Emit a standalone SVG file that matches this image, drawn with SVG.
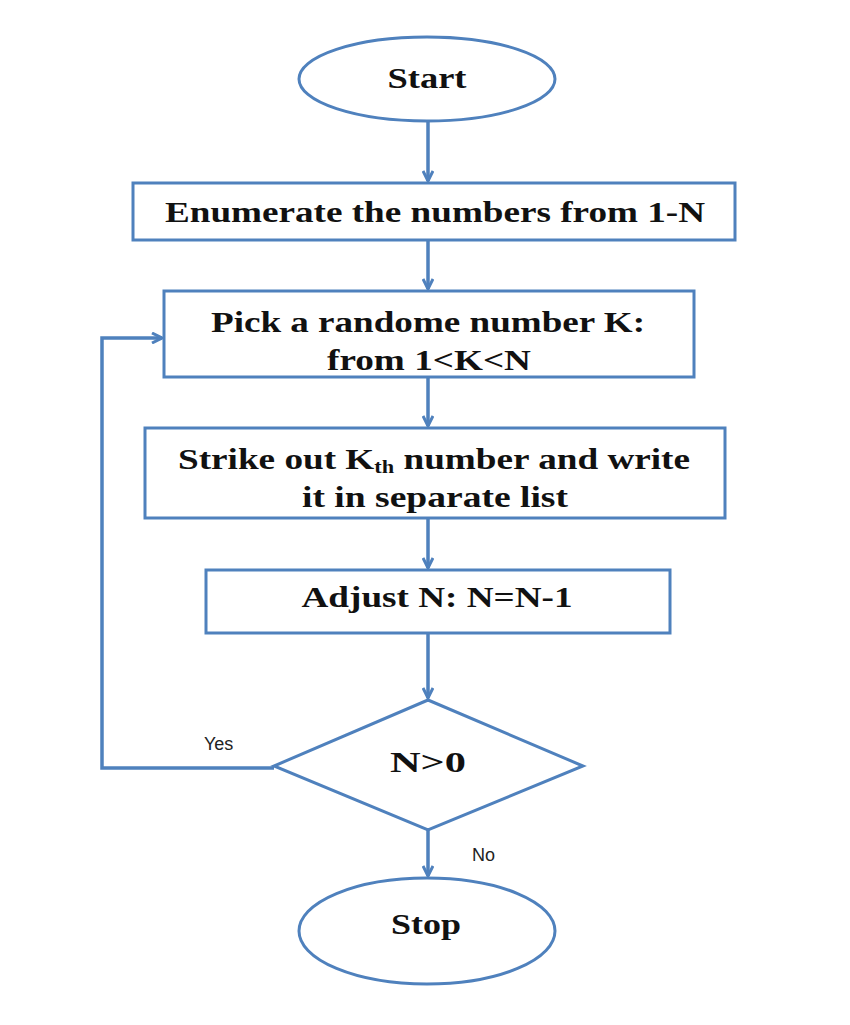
<svg xmlns="http://www.w3.org/2000/svg" width="850" height="1025" viewBox="0 0 850 1025">
<style>
.s{fill:#fff;stroke:#4f81bd;stroke-width:3}
.t{font-family:"Liberation Serif",serif;font-weight:bold;font-size:30px;fill:#111;text-anchor:middle}
.l{font-family:"Liberation Sans",sans-serif;font-size:18px;fill:#222}
.c{fill:none;stroke:#4f81bd;stroke-width:3.5}
</style>
<defs>
<marker id="a" viewBox="0 0 12 12" refX="11" refY="6" markerWidth="12" markerHeight="12" markerUnits="userSpaceOnUse" orient="auto">
<path d="M1 1 L11 6 L1 11" fill="none" stroke="#4f81bd" stroke-width="3"/>
</marker>
</defs>
<rect width="850" height="1025" fill="#fff"/>
<g id="connectors">
<line class="c" x1="428" y1="122" x2="428" y2="181" marker-end="url(#a)"/>
<line class="c" x1="428" y1="240" x2="428" y2="289" marker-end="url(#a)"/>
<line class="c" x1="428" y1="377" x2="428" y2="426" marker-end="url(#a)"/>
<line class="c" x1="428" y1="518" x2="428" y2="568" marker-end="url(#a)"/>
<line class="c" x1="428" y1="633" x2="428" y2="698" marker-end="url(#a)"/>
<line class="c" x1="428" y1="830" x2="428" y2="876" marker-end="url(#a)"/>
<polyline class="c" points="274,768 102,768 102,338 162,338" marker-end="url(#a)"/>
</g>
<g id="start">
<ellipse class="s" cx="427" cy="79" rx="128" ry="42"/>
<text class="t" x="427" y="88" textLength="79" lengthAdjust="spacingAndGlyphs">Start</text>
</g>
<g id="enumerate">
<rect class="s" x="133" y="183" width="602" height="57"/>
<text class="t" x="435" y="222" textLength="540" lengthAdjust="spacingAndGlyphs">Enumerate the numbers from 1-N</text>
</g>
<g id="pick">
<rect class="s" x="164" y="291" width="530" height="86"/>
<text class="t" x="428" y="332" textLength="434" lengthAdjust="spacingAndGlyphs">Pick a randome number K:</text>
<text class="t" x="429" y="370" textLength="204" lengthAdjust="spacingAndGlyphs">from 1&lt;K&lt;N</text>
</g>
<g id="strike">
<rect class="s" x="145" y="428" width="580" height="90"/>
<text class="t" x="434" y="469" textLength="512" lengthAdjust="spacingAndGlyphs">Strike out K<tspan font-size="18" dy="4">th</tspan><tspan dy="-4"> number and write</tspan></text>
<text class="t" x="435" y="507" textLength="266" lengthAdjust="spacingAndGlyphs">it in separate list</text>
</g>
<g id="adjust">
<rect class="s" x="206" y="570" width="464" height="63"/>
<text class="t" x="437" y="607" textLength="271" lengthAdjust="spacingAndGlyphs">Adjust N: N=N-1</text>
</g>
<g id="decision">
<polygon class="s" points="428,700 583,766 428,830 274,766"/>
<text class="t" x="428" y="772" textLength="76" lengthAdjust="spacingAndGlyphs">N&gt;0</text>
</g>
<text class="l" x="204" y="750">Yes</text>
<text class="l" x="472" y="861">No</text>
<g id="stop">
<ellipse class="s" cx="427" cy="931" rx="128" ry="53"/>
<text class="t" x="426" y="934" textLength="70" lengthAdjust="spacingAndGlyphs">Stop</text>
</g>
</svg>
